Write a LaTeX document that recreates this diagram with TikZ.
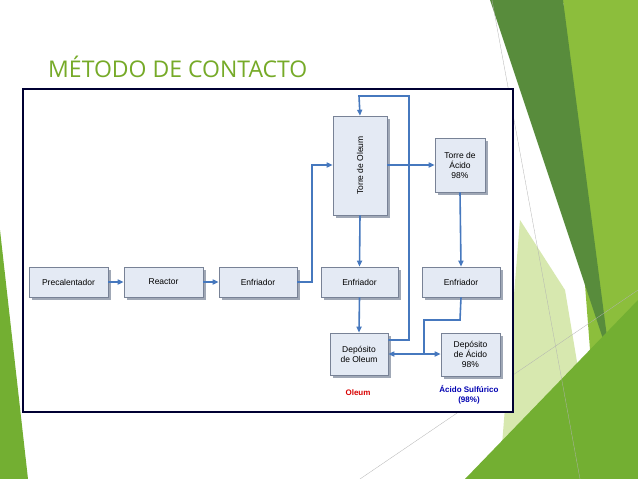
\documentclass[tikz,border=0pt]{standalone}
\usepackage{fontspec}
\setmainfont{Liberation Sans}
\newfontfamily\titlefont{Open Sans}
\usetikzlibrary{arrows.meta}
\definecolor{gA}{RGB}{88,140,60}
\definecolor{gB}{RGB}{140,190,60}
\definecolor{gC}{RGB}{215,232,175}
\definecolor{gD}{RGB}{115,175,50}
\definecolor{ttl}{RGB}{118,170,40}
\definecolor{bfill}{RGB}{228,234,244}
\definecolor{bdraw}{RGB}{120,130,150}
\definecolor{arr}{RGB}{70,120,190}
\begin{document}
\begin{tikzpicture}[x=1pt,y=-1pt,
  box/.style={draw=bdraw,fill=bfill,line width=0.6pt,inner sep=0pt,align=center,font=\fontsize{8.5}{10}\selectfont},
  ln/.style={draw=arr,line width=1.6pt},
  ar/.style={ln,-{Triangle[length=6pt,width=5pt]}}]
\useasboundingbox (0,0) rectangle (638,479);
\fill[white] (0,0) rectangle (638,479);
% background decoration
\fill[gB] (563,0) -- (638,0) -- (638,479) -- (600,479) -- cycle;
\fill[gC] (520,220) -- (565,290) -- (595,470) -- (500,470) -- cycle;
\fill[gA] (490,0) -- (563,0) -- (610,360) -- cycle;
\fill[gD] (465,479) -- (638,300) -- (638,479) -- cycle;
\fill[gD] (0,230) -- (28,479) -- (0,479) -- cycle;
\draw[gray!60,line width=0.3pt] (492,0) -- (580,479);
\draw[gray!60,line width=0.3pt] (360,479) -- (638,290);
% title
\node[anchor=base west,text=ttl,font=\titlefont\fontsize{23}{26}\selectfont,inner sep=0pt] (title) at (48,77) {MÉTODO DE CONTACTO};
% frame
\node[draw=black!80!blue,line width=1.5pt,fill=white,minimum width=490pt,minimum height=323pt,inner sep=0pt] (frame) at (268,250.5) {};
% boxes
\foreach \n/\x/\y/\w/\h/\t in {
 pre/68.5/282/79/30/Precalentador,
 rea/163.5/282/79/30/Reactor,
 en1/258/282/78/30/Enfriador,
 en2/359.5/282/77/30/Enfriador,
 en3/461/282/78/30/Enfriador,
 dol/359/354/58/42/{Depósito\\de Oleum},
 ta/460/165/50/54/{Torre de\\Ácido\\98\%},
 da/470.5/354.5/59/43/{Depósito\\de Ácido\\98\%}}
 {\fill[bdraw!70] (\x-\w/2+2.5,\y-\h/2+2.5) rectangle (\x+\w/2+2.5,\y+\h/2+2.5);
  \node[box,minimum width=\w pt,minimum height=\h pt] (\n) at (\x,\y) {\t};}
\fill[bdraw!70] (335.5,118.5) rectangle (389.5,217.5);
\node[box,minimum width=54pt,minimum height=99pt] (tol) at (360,165.5) {};
\node[rotate=90,font=\fontsize{8.5}{10}\selectfont] (toltxt) at (tol.center) {Torre de Oleum};
% labels
\node[text=red!85!black,font=\bfseries\fontsize{8}{9}\selectfont] (lo) at (358,393) {Oleum};
\node[text=blue!70!black,font=\bfseries\fontsize{8}{9.5}\selectfont,align=center] (la) at (469,395) {Ácido Sulfúrico\\(98\%)};
% connectors
\draw[ar] (pre) -- (rea);
\draw[ar] (rea) -- (en1);
\coordinate (c1) at (312,282); \coordinate (c2) at (312,165);
\draw[ar] (en1.east) -- (c1) -- (c2) -- (tol.west|-c2);
\draw[ar] (tol.east|-c2) -- (ta.west);
\draw[ar] (tol.south) -- (en2.north);
\draw[ar] (en2.south) -- (dol.north);
\draw[ar] (ta.south) -- (en3.north);
\coordinate (l1) at (409,340); \coordinate (l2) at (409,96); \coordinate (l3) at (359,96);
\draw[ar] (dol.east|-l1) -- (l1) -- (l2) -- (l3) -- (tol.north);
\coordinate (e1) at (460,320); \coordinate (e2) at (424,320); \coordinate (e3) at (424,354);
\draw[ln] (en3.south) -- (e1) -- (e2) -- (e3);
\draw[ln,{Triangle[length=6pt,width=5pt]}-{Triangle[length=6pt,width=5pt]}] (dol.east|-e3) -- (da.west|-e3);
\end{tikzpicture}
\end{document}
